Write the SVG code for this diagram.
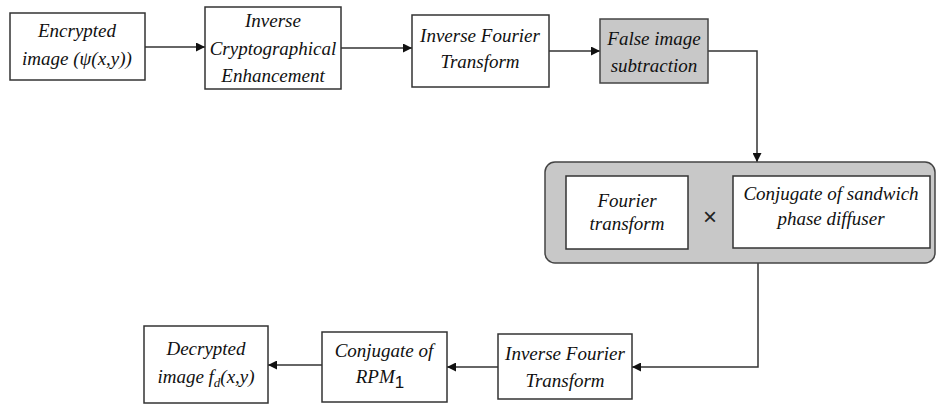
<svg xmlns="http://www.w3.org/2000/svg" width="940" height="405" viewBox="0 0 940 405">
  <defs>
    <marker id="arrow" viewBox="0 0 10 10" refX="10" refY="5" markerWidth="9" markerHeight="9" markerUnits="userSpaceOnUse" orient="auto">
      <path d="M0,0 L10,5 L0,10 z" fill="#111"/>
    </marker>
    <style>
      .box { fill: #ffffff; stroke: #333; stroke-width: 1.5; }
      .grey { fill: #c8c8c8; stroke: #444; stroke-width: 1.5; }
      .lbl { font-family: "Liberation Serif", "Times New Roman", serif; font-style: italic; font-size: 19px; fill: #111; text-anchor: middle; }
      .wire { fill: none; stroke: #333; stroke-width: 1.5; marker-end: url(#arrow); }
    </style>
  </defs>

  <rect width="940" height="405" fill="#ffffff"/>

  <!-- connectors -->
  <g id="connectors">
    <line class="wire" x1="145" y1="47" x2="205" y2="47"/>
    <line class="wire" x1="341" y1="48" x2="412" y2="48"/>
    <line class="wire" x1="549" y1="51" x2="600" y2="51"/>
    <polyline class="wire" points="708,51 757,51 757,162"/>
    <polyline class="wire" points="758,263 758,367 632,367"/>
    <line class="wire" x1="498" y1="367" x2="447" y2="367"/>
    <line class="wire" x1="322" y1="365" x2="268" y2="365"/>
  </g>

  <g id="encrypted">
    <rect class="box" x="10" y="13" width="135" height="67"/>
    <text class="lbl" x="77" y="37">Encrypted</text>
    <text class="lbl" x="77" y="65">image (ψ(x,y))</text>
  </g>

  <g id="inverse-crypto">
    <rect class="box" x="205" y="7" width="136" height="82"/>
    <text class="lbl" x="273" y="27">Inverse</text>
    <text class="lbl" x="273" y="55">Cryptographical</text>
    <text class="lbl" x="273" y="82">Enhancement</text>
  </g>

  <g id="ift-top">
    <rect class="box" x="412" y="15" width="137" height="72"/>
    <text class="lbl" x="480" y="42">Inverse Fourier</text>
    <text class="lbl" x="480" y="68">Transform</text>
  </g>

  <g id="false-image">
    <rect class="grey" x="600" y="19" width="108" height="64"/>
    <text class="lbl" x="654" y="45">False image</text>
    <text class="lbl" x="654" y="72">subtraction</text>
  </g>

  <g id="product">
    <rect class="grey" x="545" y="162" width="390" height="101" rx="10" ry="10"/>
    <g id="fourier">
      <rect class="box" x="566" y="176" width="122" height="73"/>
      <text class="lbl" x="627" y="207">Fourier</text>
      <text class="lbl" x="627" y="230">transform</text>
    </g>
    <text x="710" y="225" font-family="Liberation Sans, Arial, sans-serif" font-size="24" fill="#222" text-anchor="middle">×</text>
    <g id="conj-diffuser">
      <rect class="box" x="733" y="176" width="197" height="72"/>
      <text class="lbl" x="831" y="200">Conjugate of sandwich</text>
      <text class="lbl" x="831" y="225">phase diffuser</text>
    </g>
  </g>

  <g id="ift-bottom">
    <rect class="box" x="498" y="334" width="134" height="65"/>
    <text class="lbl" x="565" y="360">Inverse Fourier</text>
    <text class="lbl" x="565" y="387">Transform</text>
  </g>

  <g id="conj-rpm">
    <rect class="box" x="322" y="332" width="125" height="70"/>
    <text class="lbl" x="384" y="357">Conjugate of</text>
    <text class="lbl" x="380" y="383">RPM<tspan font-family="Liberation Sans, Arial, sans-serif" font-style="normal" font-size="17" dy="5">1</tspan></text>
  </g>

  <g id="decrypted">
    <rect class="box" x="144" y="326" width="124" height="77"/>
    <text class="lbl" x="206" y="355">Decrypted</text>
    <text class="lbl" x="206" y="383">image f<tspan font-size="13" dy="4">d</tspan><tspan dy="-4">(x,y)</tspan></text>
  </g>
</svg>
